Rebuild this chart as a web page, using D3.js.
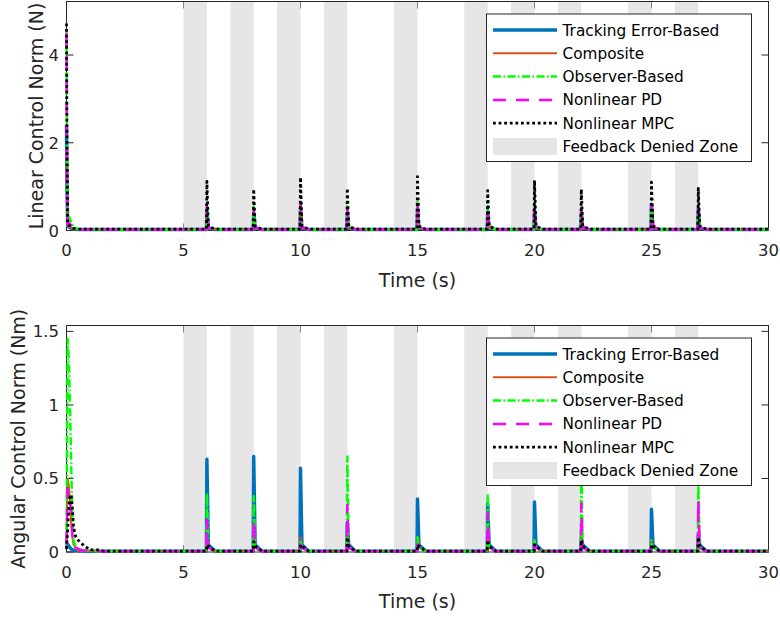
<!DOCTYPE html>
<html><head><meta charset="utf-8">
<script src="https://cdn.jsdelivr.net/npm/d3@7"></script>
<style>body{margin:0;background:#fff} svg{display:block}</style>
</head><body><svg id="c" width="780" height="621"></svg>
<script>
// ---------- data ----------
const seriesNames = ["Tracking Error-Based","Composite","Observer-Based","Nonlinear PD","Nonlinear MPC"];
const seriesColors = ["#0072BD","#D95319","#00FF00","#FF00FF","#000000"];
const zoneLabel = "Feedback Denied Zone";
const zoneStarts = [5,7,9,11,14,17,19,21,24,26];
const zoneEnds   = [6,8,10,12,15,18,20,22,25,27];
const spikeTimes = [6,8,10,12,15,18,20,22,25,27];
const xTicks = [0,5,10,15,20,25,30];
const linYTicks = [0,2,4];
const angYTicks = [0,0.5,1,1.5];

// Linear control norm (N)
const linInitTime  = [0,0.02,0.05,0.1,0.2,0.3,0.5,0.8,1.2,1.6];
const linTrackInit = [2.4,1.0,0.1,0.08,0.05,0.03,0.02,0.02,0.02,0.02];
const linCompInit  = [1.8,0.8,0.1,0.1,0.06,0.03,0.02,0.02,0.02,0.02];
const linObsInit   = [4.6,1.8,0.3,0.32,0.2,0.08,0.03,0.02,0.02,0.02];
const linPDInit    = [4.5,1.5,0.15,0.18,0.12,0.06,0.03,0.02,0.02,0.02];
const linMPCInit   = [4.72,2.0,0.15,0.12,0.1,0.05,0.03,0.03,0.03,0.03];
const linTrackPeak = [0.45,0.40,0.50,0.40,0.50,0.42,0.45,0.40,0.60,0.50];
const linCompPeak  = [0.40,0.36,0.45,0.36,0.45,0.38,0.40,0.36,0.50,0.45];
const linObsPeak   = [0.60,0.55,0.65,0.55,0.65,0.55,0.60,0.55,0.62,0.55];
const linPDPeak    = [0.55,0.50,0.60,0.50,0.60,0.50,0.55,0.50,0.58,0.52];
const linMPCPeak   = [1.12,0.94,1.21,0.96,1.23,0.91,1.14,0.94,1.10,0.96];
const linTails = [0.06,0.06,0.08,0.08,0.10];
const linBase  = [0.02,0.02,0.02,0.02,0.03];

// Angular control norm (Nm)
const angInitTime  = [0,0.05,0.1,0.15,0.2,0.25,0.3,0.4,0.5,0.7,1.0,1.3,1.6];
const angTrackInit = [0.03,0.05,0.04,0.03,0.02,0.015,0.01,0.01,0.008,0.006,0.005,0.005,0.005];
const angCompInit  = [0.05,0.5,0.45,0.35,0.2,0.1,0.05,0.02,0.01,0.008,0.006,0.005,0.005];
const angObsInit   = [0.05,1.45,1.3,1.0,0.6,0.25,0.08,0.03,0.02,0.01,0.008,0.005,0.005];
const angPDInit    = [0.05,0.43,0.42,0.35,0.25,0.12,0.06,0.03,0.02,0.01,0.008,0.005,0.005];
const angMPCInit   = [0.02,0.15,0.3,0.38,0.39,0.3,0.17,0.1,0.08,0.05,0.014,0.015,0.006];
const angTrackPeak = [0.63,0.65,0.57,0.20,0.36,0.33,0.34,0.10,0.29,0.12];
const angCompPeak  = [0.10,0.10,0.10,0.15,0.10,0.12,0.06,0.10,0.08,0.12];
const angObsPeak   = [0.40,0.38,0.08,0.65,0.10,0.40,0.08,0.62,0.08,0.50];
const angPDPeak    = [0.22,0.22,0.05,0.32,0.05,0.27,0.05,0.33,0.05,0.35];
const angMPCPeak   = [0.05,0.07,0.05,0.10,0.05,0.08,0.05,0.08,0.05,0.10];
const angTails = [0.05,0.03,0.03,0.03,0.04];
const angBase  = [0.005,0.005,0.005,0.005,0.006];

// ---------- styles ----------
const lineWidths = [3.5,2,2.5,2.5,2.8];
const lineDashes = [null,null,"8,2.5,1.5,2.5","13,10","2.8,2.8"];
const FONT = "'DejaVu Sans', Verdana, sans-serif";
const AX = "#262626";
const ZONE = "#e6e6e6";

function buildSeries(initT, init, peaks, tail, base){
  const pts = initT.map((t,i)=>[t, init[i]]);
  spikeTimes.forEach((t,i)=>{
    pts.push([t-0.02, base]);
    pts.push([t, peaks[i]]);
    pts.push([t+0.06, tail]);
    pts.push([t+0.35, base]);
  });
  pts.push([30, base]);
  return pts;
}

const svg = d3.select("#c");
const x = d3.scaleLinear().domain([0,30]).range([66.5,768.5]);

function panel(opt){
  const y = d3.scaleLinear().domain([0,opt.ymax]).range([opt.bottom, opt.top]);
  const g = svg.append("g");
  const clipId = "clip"+opt.id;
  svg.append("clipPath").attr("id",clipId).append("rect")
    .attr("x",x(0)-3).attr("y",opt.top).attr("width",x(30)-x(0)+3).attr("height",opt.bottom-opt.top+2);

  // ticks (inward, under patches)
  const tk = g.append("g").attr("stroke",AX).attr("stroke-width",1);
  xTicks.forEach(v=>{
    tk.append("line").attr("x1",x(v)).attr("x2",x(v)).attr("y1",opt.bottom).attr("y2",opt.bottom-7);
    tk.append("line").attr("x1",x(v)).attr("x2",x(v)).attr("y1",opt.top).attr("y2",opt.top+7);
  });
  opt.yTicks.forEach(v=>{
    tk.append("line").attr("x1",x(0)).attr("x2",x(0)+7).attr("y1",y(v)).attr("y2",y(v));
    tk.append("line").attr("x1",x(30)).attr("x2",x(30)-7).attr("y1",y(v)).attr("y2",y(v));
  });

  // zones
  g.append("g").selectAll("rect").data(zoneStarts).join("rect")
    .attr("x",(d)=>x(d)).attr("width",(d,i)=>x(zoneEnds[i])-x(d))
    .attr("y",opt.top).attr("height",opt.bottom-opt.top).attr("fill",ZONE);

  // box
  g.append("rect").attr("x",x(0)).attr("y",opt.top).attr("width",x(30)-x(0)).attr("height",opt.bottom-opt.top)
    .attr("fill","none").attr("stroke",AX).attr("stroke-width",1);

  // lines
  const line = d3.line().x(d=>x(d[0])).y(d=>y(d[1]));
  const lg = g.append("g").attr("clip-path",`url(#${clipId})`);
  opt.series.forEach((pts,i)=>{
    lg.append("path").attr("d",line(pts)).attr("fill","none")
      .attr("stroke",seriesColors[i]).attr("stroke-width",lineWidths[i])
      .attr("stroke-dasharray",lineDashes[i]).attr("stroke-linejoin","round");
  });

  // tick labels
  const tl = g.append("g").attr("font-family",FONT).attr("font-size",16.5).attr("fill",AX);
  xTicks.forEach(v=>{
    tl.append("text").attr("x",x(v)).attr("y",opt.bottom+25.5).attr("text-anchor","middle").text(v);
  });
  opt.yTicks.forEach(v=>{
    tl.append("text").attr("x",59).attr("y",y(v)+6).attr("text-anchor","end").text(v);
  });

  // axis labels
  g.append("text").attr("x",(x(0)+x(30))/2).attr("y",opt.bottom+56).attr("text-anchor","middle")
    .attr("font-family",FONT).attr("font-size",19).attr("fill",AX).text("Time (s)");
  g.append("text").attr("transform",`translate(${opt.ylabX},${(opt.top+opt.bottom)/2}) rotate(-90)`)
    .attr("text-anchor","middle").attr("font-family",FONT).attr("font-size",19).attr("fill",AX).text(opt.ylabel);

  // legend
  const L = g.append("g").attr("transform",`translate(0,${opt.top})`);
  L.append("rect").attr("x",486.5).attr("y",12.5).attr("width",265).attr("height",147.5)
    .attr("fill","#fff").attr("stroke",AX).attr("stroke-width",1);
  const rowY = i=> 28.5 + i*23.3;
  seriesNames.forEach((name,i)=>{
    L.append("line").attr("x1",493).attr("x2",557).attr("y1",rowY(i)).attr("y2",rowY(i))
      .attr("stroke",seriesColors[i]).attr("stroke-width",lineWidths[i]).attr("stroke-dasharray",lineDashes[i]);
    L.append("text").attr("x",562.5).attr("y",rowY(i)+5.5).attr("font-family",FONT).attr("font-size",15.3)
      .attr("fill","#000").text(name);
  });
  L.append("rect").attr("x",493).attr("y",rowY(5)-8.5).attr("width",64).attr("height",17).attr("fill",ZONE);
  L.append("text").attr("x",562.5).attr("y",rowY(5)+5.5).attr("font-family",FONT).attr("font-size",15.3)
    .attr("fill","#000").text(zoneLabel);
}

panel({
  id:"lin", top:1.5, bottom:230.5, ymax:5.22, yTicks:linYTicks, ylabX:43,
  ylabel:"Linear Control Norm (N)",
  series:[
    buildSeries(linInitTime, linTrackInit, linTrackPeak, linTails[0], linBase[0]),
    buildSeries(linInitTime, linCompInit,  linCompPeak,  linTails[1], linBase[1]),
    buildSeries(linInitTime, linObsInit,   linObsPeak,   linTails[2], linBase[2]),
    buildSeries(linInitTime, linPDInit,    linPDPeak,    linTails[3], linBase[3]),
    buildSeries(linInitTime, linMPCInit,   linMPCPeak,   linTails[4], linBase[4])
  ]
});
panel({
  id:"ang", top:325.5, bottom:552, ymax:1.54, yTicks:angYTicks, ylabX:25,
  ylabel:"Angular Control Norm (Nm)",
  series:[
    buildSeries(angInitTime, angTrackInit, angTrackPeak, angTails[0], angBase[0]),
    buildSeries(angInitTime, angCompInit,  angCompPeak,  angTails[1], angBase[1]),
    buildSeries(angInitTime, angObsInit,   angObsPeak,   angTails[2], angBase[2]),
    buildSeries(angInitTime, angPDInit,    angPDPeak,    angTails[3], angBase[3]),
    buildSeries(angInitTime, angMPCInit,   angMPCPeak,   angTails[4], angBase[4])
  ]
});
</script></body></html>
